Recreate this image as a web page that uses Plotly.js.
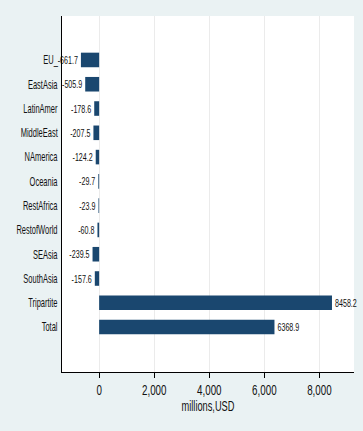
<!DOCTYPE html>
<html><head><meta charset="utf-8">
<script src="https://cdn.plot.ly/plotly-3.0.1.min.js"></script>
<style>html,body{margin:0;padding:0;background:#EAF2F3;}#chart{width:363px;height:431px;}</style>
</head><body><div id="chart"></div>
<script>
var regions = ["EU_", "EastAsia", "LatinAmer", "MiddleEast", "NAmerica", "Oceania", "RestAfrica", "RestofWorld", "SEAsia", "SouthAsia", "Tripartite", "Total"];
var values = [-661.7, -505.9, -178.6, -207.5, -124.2, -29.7, -23.9, -60.8, -239.5, -157.6, 8458.2, 6368.9];
var valueLabels = ["-661.7", "-505.9", "-178.6", "-207.5", "-124.2", "-29.7", "-23.9", "-60.8", "-239.5", "-157.6", "8458.2", "6368.9"];
var xTickVals = [0, 2000, 4000, 6000, 8000];
var xTickText = ["0", "2,000", "4,000", "6,000", "8,000"];

var FONT = "'Liberation Sans', Arial, sans-serif";
var trace = {
  type: 'bar', orientation: 'h',
  x: values, y: regions,
  marker: {color: '#1A476F', line: {width: 0}},
  width: 0.6,
  text: valueLabels, textposition: 'outside', cliponaxis: false, constraintext: 'none',
  textfont: {family: FONT, size: 11.5, color: '#111'},
  hoverinfo: 'none'
};
var layout = {
  width: 363, height: 431,
  paper_bgcolor: '#EAF2F3', plot_bgcolor: '#FFFFFF',
  margin: {l: 62, r: 9, t: 16, b: 59, pad: 0},
  showlegend: false,
  font: {family: FONT, size: 11, color: '#111'},
  xaxis: {
    range: [-1349, 9258], tickvals: xTickVals, ticktext: xTickText,
    showgrid: true, gridcolor: '#EBEBEB', gridwidth: 1,
    zeroline: false, showline: true, linecolor: '#000', linewidth: 1,
    ticks: 'outside', ticklen: 5, tickcolor: '#000',
    tickfont: {family: FONT, size: 14, color: '#111'},
    title: {text: 'millions,USD', font: {family: FONT, size: 14, color: '#111'}, standoff: 4}
  },
  yaxis: {
    type: 'category', categoryorder: 'array', categoryarray: regions,
    range: [12.85, -1.81], autorange: false,
    showgrid: false, zeroline: false, showline: true, linecolor: '#000', linewidth: 1,
    ticks: '', ticklabelstandoff: 1,
    tickfont: {family: FONT, size: 12.5, color: '#111'}
  },
  bargap: 0.4
};

function squeeze(el, s, mode) {
  var bb = el.getBBox();
  var ax;
  if (mode === 'end') ax = bb.x + bb.width;
  else if (mode === 'start') ax = bb.x;
  else ax = bb.x + bb.width / 2;
  var t = el.getAttribute('transform') || '';
  el.setAttribute('transform', t + ' translate(' + ax + ',0) scale(' + s + ',1) translate(' + (-ax) + ',0)');
}

Plotly.newPlot('chart', [trace], layout, {displayModeBar: false, staticPlot: true}).then(function (gd) {
  gd.querySelectorAll('.ytick text').forEach(function (el) { squeeze(el, 0.6, 'end'); });
  gd.querySelectorAll('.xtick text').forEach(function (el) { squeeze(el, 0.7, 'middle'); });
  gd.querySelectorAll('.xtitle').forEach(function (el) { squeeze(el, 0.66, 'middle'); });
  gd.querySelectorAll('.bartext').forEach(function (el, i) {
    squeeze(el, 0.62, values[i] < 0 ? 'end' : 'start');
  });
});
</script></body></html>
